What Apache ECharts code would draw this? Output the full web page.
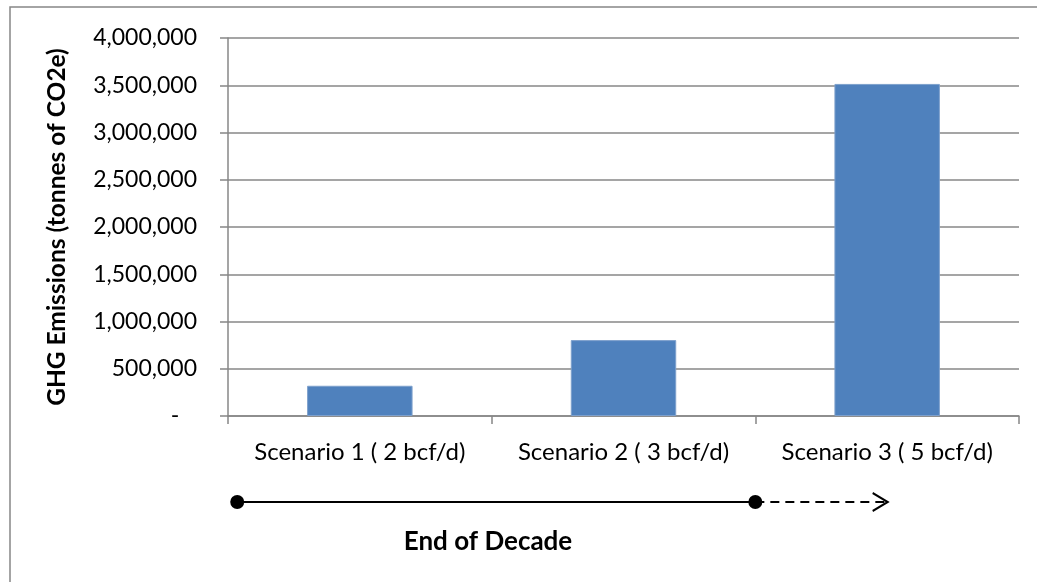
<!DOCTYPE html>
<html>
<head>
<meta charset="utf-8">
<script src="https://cdn.jsdelivr.net/npm/echarts@6/dist/echarts.min.js"></script>
<style>
html,body{margin:0;padding:0;background:#fff;}
#chart{width:1037px;height:582px;}
</style>
</head>
<body>
<div id="chart"></div>
<script>
const categories = ['Scenario 1 ( 2 bcf/d)', 'Scenario 2 ( 3 bcf/d)', 'Scenario 3 ( 5 bcf/d)'];
const emissions = [320000, 803000, 3514000];
const yTicks = { min: 0, max: 4000000, interval: 500000 };
const yAxisTitle = 'GHG Emissions (tonnes of CO2e)';
const timelineTitle = 'End of Decade';
// timeline positions in category units along the x axis
const timelineSolid = [[0.035, 0], [2.0, 0]];
const timelineDashed = [[2.0, 0], [2.5, 0]];

const FONT = 'Lato';
const GRAY = '#878787';
const chart = echarts.init(document.getElementById('chart'), null, { renderer: 'canvas' });

chart.setOption({
  animation: false,
  backgroundColor: '#fff',
  grid: [
    { left: 228, right: 18, top: 38, bottom: 166, containLabel: false },
    { left: 228, right: 18, top: 482, height: 40, containLabel: false }
  ],
  xAxis: [
    {
      type: 'category', gridIndex: 0, data: categories,
      axisLine: { lineStyle: { color: GRAY, width: 1.5 } },
      axisTick: { show: true, length: 8, lineStyle: { color: GRAY, width: 1.5 } },
      axisLabel: { color: '#000', fontFamily: FONT, fontSize: 24, margin: 24, interval: 0, hideOverlap: false }
    },
    {
      type: 'value', gridIndex: 1, min: 0, max: 3, show: false
    }
  ],
  yAxis: [
    {
      type: 'value', gridIndex: 0,
      min: yTicks.min, max: yTicks.max, interval: yTicks.interval,
      name: yAxisTitle, nameLocation: 'middle', nameGap: 158,
      nameTextStyle: { color: '#000', fontFamily: FONT, fontSize: 24.5, fontWeight: 'bold' },
      axisLine: { show: true, lineStyle: { color: GRAY, width: 1.5 } },
      axisTick: { show: true, length: 8, lineStyle: { color: GRAY, width: 1.5 } },
      splitLine: { lineStyle: { color: GRAY, width: 1.5 } },
      axisLabel: {
        color: '#000', fontFamily: FONT, fontSize: 23, margin: 31,
        formatter: v => v === 0 ? '-   ' : v.toLocaleString('en-US')
      }
    },
    {
      type: 'value', gridIndex: 1, min: -1, max: 1, show: false
    }
  ],
  graphic: [
    {
      type: 'polyline', silent: true,
      shape: { points: [[10, 700], [10, 7], [1100, 7]] },
      style: { stroke: GRAY, lineWidth: 1.5, fill: null }
    },
    {
      type: 'text', x: 488, y: 542,
      style: {
        text: timelineTitle, fill: '#000', font: 'bold 26px ' + FONT,
        textAlign: 'center', textVerticalAlign: 'middle'
      }
    }
  ],
  series: [
    {
      type: 'bar', xAxisIndex: 0, yAxisIndex: 0, data: emissions,
      barWidth: '40%',
      itemStyle: { color: '#4f81bd', borderColor: '#7ea0cc', borderWidth: 1 }
    },
    {
      type: 'line', xAxisIndex: 1, yAxisIndex: 1, data: timelineSolid,
      symbol: 'circle', symbolSize: 14, showSymbol: true,
      lineStyle: { color: '#000', width: 2 },
      itemStyle: { color: '#000' }, z: 3
    },
    {
      type: 'line', xAxisIndex: 1, yAxisIndex: 1,
      data: [
        { value: timelineDashed[0], symbol: 'none' },
        { value: timelineDashed[1], symbol: 'path://M0,0 L16,12 L0,24', symbolSize: [15, 18], symbolOffset: [-7, 0] }
      ],
      showSymbol: true,
      lineStyle: { color: '#000', width: 2, type: [9, 6] },
      itemStyle: { color: 'none', borderColor: '#000', borderWidth: 2 }, z: 2
    }
  ]
});
</script>
</body>
</html>
